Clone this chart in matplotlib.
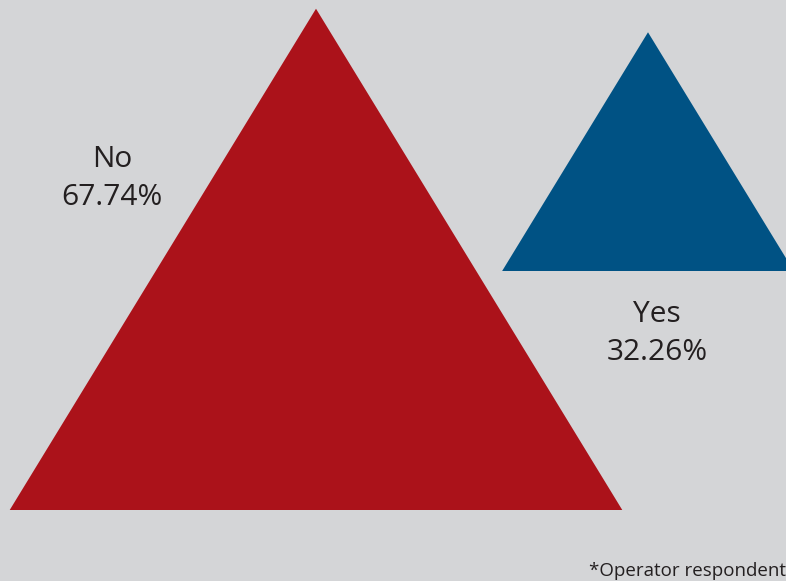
import matplotlib.pyplot as plt
from matplotlib.patches import Polygon

# Survey answers
labels = ["No", "Yes"]
shares = [67.74, 32.26]
colors = ["#AB121A", "#005284"]
footnote = "*Operator respondents"

# triangle placement in pixel space (base centre x, base y)
base_x = [316, 648]
base_y = [510, 271]
px_per_pct = 7.4
aspect = 1.222  # base width / height
# label anchor: (centre x, baseline of first line)
label_pos = [(112, 167), (657, 322)]
line_gap = 38

plt.rcParams['font.family'] = ['Open Sans', 'DejaVu Sans']

fig = plt.figure(figsize=(7.86, 5.81), dpi=100)
fig.patch.set_facecolor("#D4D5D7")
ax = fig.add_axes([0, 0, 1, 1])
ax.set_xlim(0, 786)
ax.set_ylim(581, 0)
ax.axis("off")

for lab, val, col, bx, by, (lx, ly) in zip(labels, shares, colors, base_x, base_y, label_pos):
    h = val * px_per_pct
    w = h * aspect
    tri = Polygon([(bx - w / 2, by), (bx + w / 2, by), (bx, by - h)],
                  closed=True, facecolor=col, edgecolor="none")
    ax.add_patch(tri)
    ax.text(lx, ly, lab, ha="center", va="baseline",
            fontsize=21.5, color="#231F20")
    ax.text(lx, ly + line_gap, f"{val:.2f}%", ha="center", va="baseline",
            fontsize=21.5, color="#231F20")

# footnote runs off the right edge of the canvas
ax.text(589, 576, footnote, ha="left", va="baseline", fontsize=13.5,
        color="#231F20")

fig.savefig("out.png", dpi=100, facecolor=fig.get_facecolor())
